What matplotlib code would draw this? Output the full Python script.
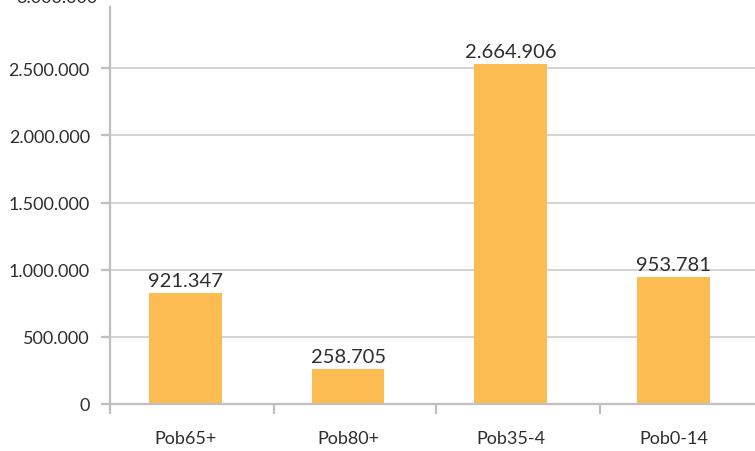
import matplotlib
matplotlib.use("Agg")
import matplotlib.pyplot as plt
from matplotlib.ticker import FuncFormatter

categories = ["Pob65+", "Pob80+", "Pob35-4", "Pob0-14"]
label_values = [921347, 258705, 2664906, 953781]
bar_heights = [826000, 260000, 2530000, 943000]
y_ticks = [0, 500000, 1000000, 1500000, 2000000, 2500000]

plt.rcParams['font.family'] = ['Lato', 'DejaVu Sans']

fig = plt.figure(figsize=(7.55, 4.52), dpi=100)
ax = fig.add_axes([110/755, 1-405/452, 1-110/755, (405-8)/452])

grid_c = "#c8c8c8"
axis_c = "#bfbfbf"
text_c = "#2e2e2e"

x = list(range(len(categories)))
ax.bar(x, bar_heights, width=0.447, color="#FCBC52", zorder=2)

ax.set_xlim(-0.463, 3.50)
ax.set_ylim(0, 2956000)

ax.set_yticks(y_ticks)
ax.yaxis.set_major_formatter(FuncFormatter(lambda v, p: f"{int(v):,}".replace(",", ".")))
ax.grid(axis="y", color=grid_c, linewidth=1.1, zorder=0)
ax.set_axisbelow(True)

ax.set_xticks(x)
ax.set_xticklabels(categories)
ax.set_xticks([-0.463, 0.545, 1.54, 2.545], minor=True)
ax.tick_params(axis="x", which="major", length=0, pad=19, labelsize=13, labelcolor=text_c)
ax.tick_params(axis="x", which="minor", length=7.5, width=1.6, color=axis_c, direction="out")
ax.tick_params(axis="y", which="major", length=6.5, width=1.6, color=axis_c, pad=8,
               labelsize=13, labelcolor=text_c)

for s in ["top", "right"]:
    ax.spines[s].set_visible(False)
for s in ["left", "bottom"]:
    ax.spines[s].set_color(axis_c)
    ax.spines[s].set_linewidth(1.6)

ax.text(-0.02, 3030000, "3.000.000", transform=ax.get_yaxis_transform(),
        ha="right", va="center", fontsize=13, color=text_c, clip_on=False)

for xi, h, v in zip(x, bar_heights, label_values):
    ax.annotate(f"{v:,}".replace(",", "."), (xi, h), xytext=(0, 3), textcoords="offset points",
                ha="center", va="bottom", fontsize=14.5, color=text_c, zorder=3)

fig.savefig("out.png", dpi=100)
